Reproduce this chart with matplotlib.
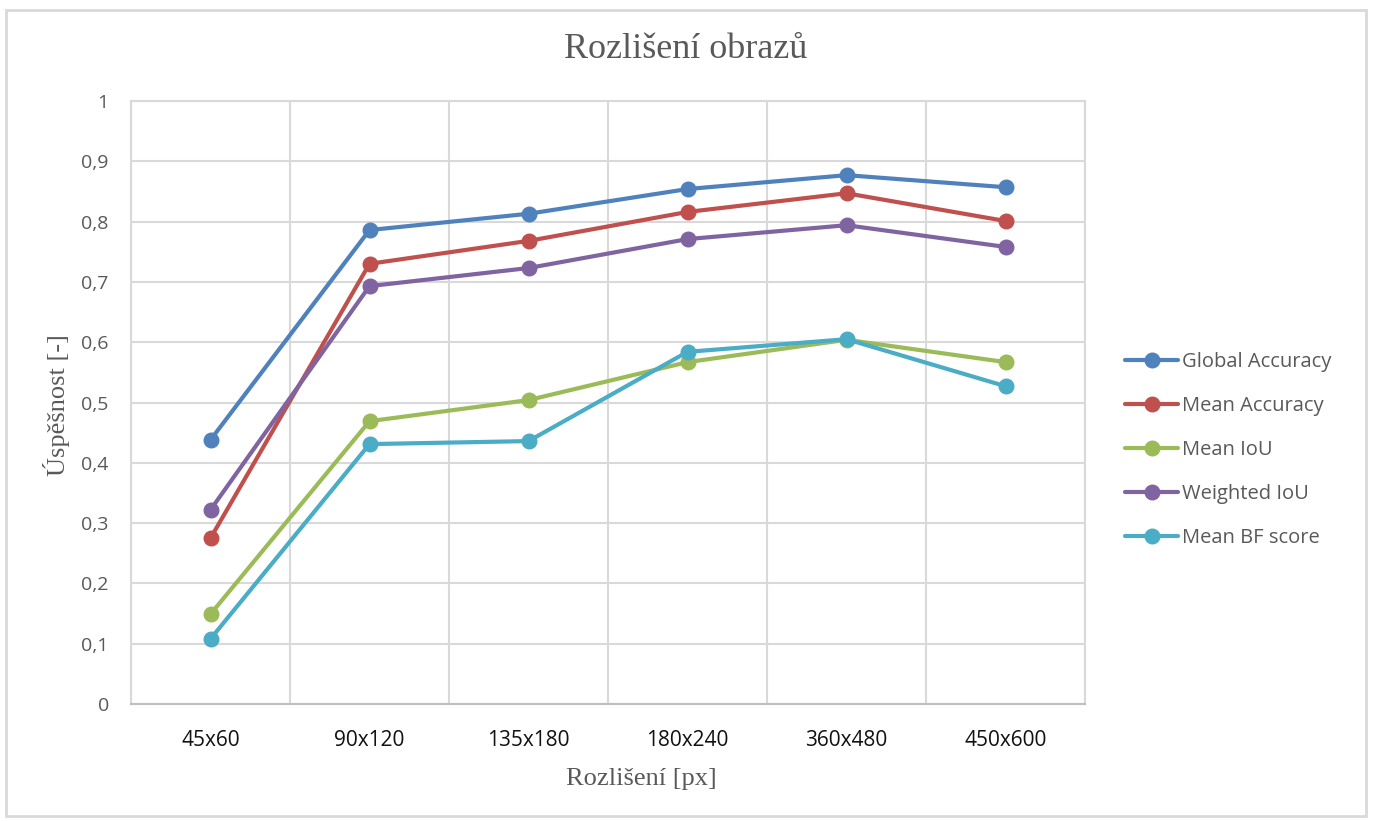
import matplotlib.pyplot as plt
from matplotlib.patches import Rectangle

# data
resolutions = ['45x60', '90x120', '135x180', '180x240', '360x480', '450x600']
global_accuracy = [0.438, 0.786, 0.813, 0.854, 0.877, 0.857]
mean_accuracy = [0.275, 0.730, 0.768, 0.816, 0.847, 0.801]
mean_iou = [0.149, 0.469, 0.504, 0.567, 0.604, 0.567]
weighted_iou = [0.322, 0.693, 0.723, 0.771, 0.794, 0.758]
mean_bf_score = [0.108, 0.431, 0.436, 0.584, 0.605, 0.527]

series = [
    ('Global Accuracy', global_accuracy, '#4F81BD'),
    ('Mean Accuracy', mean_accuracy, '#C0504D'),
    ('Mean IoU', mean_iou, '#9BBB59'),
    ('Weighted IoU', weighted_iou, '#8064A2'),
    ('Mean BF score', mean_bf_score, '#4BACC6'),
]

fig = plt.figure(figsize=(13.76, 8.21), dpi=100)
ax = fig.add_axes([131 / 1376, 1 - 704 / 821, (1085 - 131) / 1376, (704 - 101) / 821])

x = range(len(resolutions))
for name, vals, color in series:
    ax.plot(x, vals, color=color, lw=3, marker='o', ms=10.5, label=name,
            solid_capstyle='round', zorder=3)

ax.set_xlim(-0.5, len(resolutions) - 0.5)
ax.set_ylim(0, 1)
yt = [i / 10 for i in range(11)]
ax.set_yticks(yt)
ax.set_yticklabels([('%g' % v).replace('.', ',') for v in yt],
                   fontsize=14, color='#595959', family='Open Sans')
ax.set_xticks(list(x))
ax.set_xticklabels(resolutions, fontsize=15, color='#111111', family='Open Sans')
ax.set_xticks([i - 0.5 for i in range(len(resolutions) + 1)], minor=True)
ax.tick_params(which='both', length=0)
ax.tick_params(axis='y', pad=16)
ax.tick_params(axis='x', pad=19)
ax.grid(True, axis='y', color='#d9d9d9', lw=1.5)
ax.grid(True, axis='x', which='minor', color='#d9d9d9', lw=1.5)
for s in ['top', 'right', 'left']:
    ax.spines[s].set_color('#d9d9d9')
    ax.spines[s].set_linewidth(1.5)
ax.spines['bottom'].set_color('#bfbfbf')
ax.spines['bottom'].set_linewidth(1.5)

fig.text(686 / 1376, 1 - 50 / 821, 'Rozlišení obrazů', ha='center', va='center',
         fontsize=26, color='#595959', family='Liberation Serif')
fig.text(641 / 1376, 1 - 779 / 821, 'Rozlišení [px]', ha='center', va='center',
         fontsize=19, color='#595959', family='Liberation Serif')
fig.text(57 / 1376, 1 - 405 / 821, 'Úspěšnost [-]', ha='center', va='center',
         rotation=90, fontsize=19, color='#595959', family='Liberation Serif')

leg = ax.legend(loc='center left', bbox_to_anchor=(1.023, 0.421), frameon=False,
                labelspacing=1.2, handlelength=2.64, handletextpad=0.2,
                prop={'family': 'Open Sans', 'size': 14.5})
for t in leg.get_texts():
    t.set_color('#595959')

fig.patches.append(Rectangle((6 / 1376, 5 / 821), 1360 / 1376, 806 / 821,
                             transform=fig.transFigure, fill=False,
                             edgecolor='#d9d9d9', lw=2))

fig.savefig('out.png', dpi=100)
